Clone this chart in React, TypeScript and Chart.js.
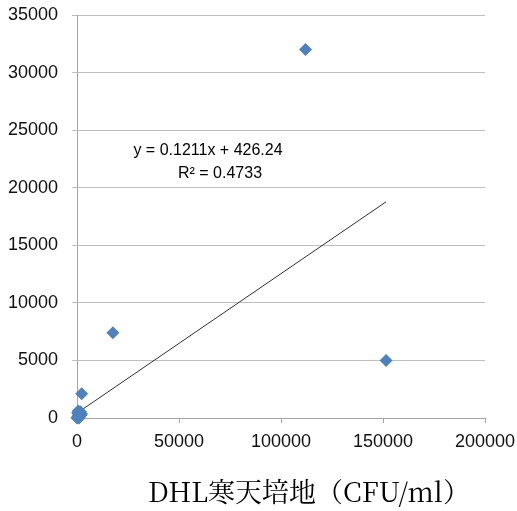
import React, { useEffect, useRef } from "react";
import { Chart, registerables } from "chart.js";

Chart.register(...registerables);

// Scatter data (DHL寒天培地 CFU/ml vs. other count)
const xValues = [112000, 151500, 17600, 2300, 0, 200, 500, 800, 1200, 1500, 2000, 300, 1000, 2200, 600, 1700];
const yValues = [32000, 5000, 7400, 2100, 0, 50, 150, 300, 100, 400, 250, 450, 0, 350, 600, 550];

// Linear trendline from the reference
const slope = 0.1211;
const intercept = 426.24;
const equationText = "y = 0.1211x + 426.24";
const r2Text = "R² = 0.4733";
const xTitle = "DHL寒天培地（CFU/ml）";

const xTicks = [0, 50000, 100000, 150000, 200000];
const yTicks = [0, 5000, 10000, 15000, 20000, 25000, 30000, 35000];

export default function App() {
  const ref = useRef<HTMLCanvasElement | null>(null);

  useEffect(() => {
    if (!ref.current) return;
    const xMin = Math.min(...xValues);
    const xMax = Math.max(...xValues);
    const trend = [
      { x: xMin, y: slope * xMin + intercept },
      { x: xMax, y: slope * xMax + intercept },
    ];

    const textPlugin = {
      id: "annotText",
      afterDraw(chart: any) {
        const ctx = chart.ctx;
        const ca = chart.chartArea;
        ctx.save();
        ctx.fillStyle = "#000";
        ctx.textAlign = "center";
        ctx.textBaseline = "middle";
        ctx.font = "16px 'Liberation Sans', Arial, sans-serif";
        ctx.fillText(equationText, ca.left + 131, ca.top + 136);
        ctx.fillText(r2Text, ca.left + 143, ca.top + 159);
        ctx.font = "27px 'Noto Serif CJK JP', 'Liberation Serif', 'Noto Sans CJK JP', serif";
        ctx.fillText(xTitle, 309, 492);
        ctx.restore();
      },
    };

    const chart = new Chart(ref.current, {
      type: "scatter",
      data: {
        datasets: [
          {
            label: "data",
            data: xValues.map((x, i) => ({ x, y: yValues[i] })),
            pointStyle: "rectRot",
            pointRadius: 6.5,
            pointBackgroundColor: "#4F81BD",
            pointBorderColor: "#4F81BD",
            pointBorderWidth: 0,
            showLine: false,
            clip: false,
          } as any,
          {
            label: "trend",
            type: "line",
            data: trend,
            borderColor: "#303030",
            borderWidth: 1,
            pointRadius: 0,
            fill: false,
          } as any,
        ],
      },
      plugins: [textPlugin],
      options: {
        responsive: false,
        animation: false,
        layout: { autoPadding: false, padding: { left: 0, top: 15, right: 32, bottom: 0 } },
        plugins: {
          legend: { display: false },
          tooltip: { enabled: false },
        },
        scales: {
          x: {
            type: "linear",
            min: 0,
            max: 200000,
            afterBuildTicks: (s: any) => {
              s.ticks = xTicks.map((v) => ({ value: v }));
            },
            afterFit: (s: any) => {
              s.height = 93;
              s.paddingLeft = 0;
              s.paddingRight = 0;
            },
            ticks: {
              color: "#111",
              font: { family: "'Liberation Sans', Arial, sans-serif", size: 18 },
              padding: 8,
              maxRotation: 0,
              callback: (v: any) => String(v),
            },
            grid: {
              drawOnChartArea: false,
              drawTicks: true,
              tickLength: 5,
              color: "#a6a6a6",
            },
            border: { display: true, color: "#a6a6a6" },
          },
          y: {
            type: "linear",
            min: 0,
            max: 35000,
            afterBuildTicks: (s: any) => {
              s.ticks = yTicks.map((v) => ({ value: v }));
            },
            afterFit: (s: any) => {
              s.width = 77;
              s.paddingTop = 0;
              s.paddingBottom = 0;
            },
            ticks: {
              color: "#111",
              font: { family: "'Liberation Sans', Arial, sans-serif", size: 18 },
              padding: 14,
              callback: (v: any) => String(v),
            },
            grid: {
              drawOnChartArea: true,
              drawTicks: true,
              tickLength: 5,
              color: "#bfbfbf",
            },
            border: { display: true, color: "#a6a6a6" },
          },
        },
      },
    });
    return () => chart.destroy();
  }, []);

  return (
    <div style={{ position: "fixed", left: 0, top: 0, width: 517, height: 511, background: "#fff" }}>
      <canvas ref={ref} width={517} height={511} style={{ display: "block" }} />
    </div>
  );
}
